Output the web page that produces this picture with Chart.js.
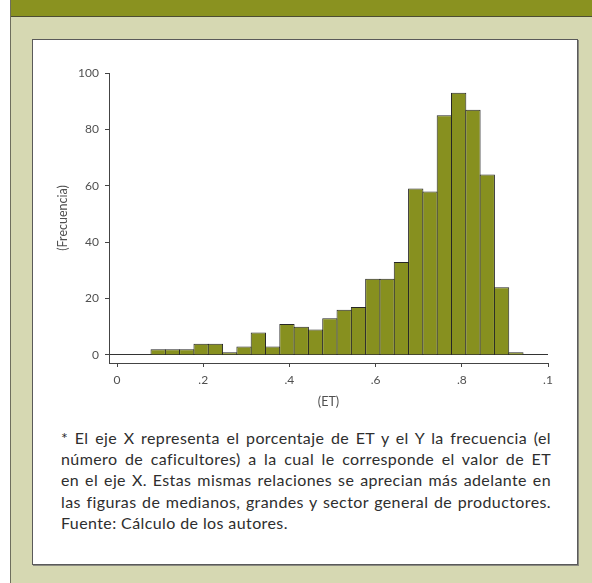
<!DOCTYPE html>
<html>
<head>
<meta charset="utf-8">
<script src="https://cdn.jsdelivr.net/npm/chart.js@4"></script>
<style>
  body { margin: 0; width: 592px; height: 583px; overflow: hidden; background: #fff; position: relative; }
  .panel { position: absolute; left: 10px; top: 0; width: 582px; height: 583px; background: #d6d8b2; border-left: 1px solid #6e6e5e; }
  .header { position: absolute; left: 11px; top: 0; width: 581px; height: 16px; background: #8a9220; border-bottom: 1px solid #4d4d33; }
  .box { position: absolute; left: 32px; top: 39px; width: 544px; height: 524px; background: #fff; border: 1px solid #5a5a5a; box-shadow: 1px 1px 0 #8a8a80; }
  .chart { position: absolute; left: 32px; top: 39px; width: 546px; height: 380px; }
  .nota { position: absolute; left: 61px; top: 427px; width: 490px; font-family: Lato, sans-serif; font-size: 16px; letter-spacing: 0.4px; line-height: 21.2px; color: #2e2e2e; }
  .nota div { text-align: justify; text-align-last: justify; white-space: nowrap; }
  .nota div.ultima { text-align-last: left; }
</style>
</head>
<body>
<div class="panel"></div>
<div class="header"></div>
<div class="box"></div>
<div class="chart"><canvas id="histograma" width="546" height="380"></canvas></div>
<div class="nota">
  <div>* El eje X representa el porcentaje de ET y el Y la frecuencia (el</div>
  <div>número de caficultores) a la cual le corresponde el valor de ET</div>
  <div>en el eje X. Estas mismas relaciones se aprecian más adelante en</div>
  <div>las figuras de medianos, grandes y sector general de productores.</div>
  <div class="ultima">Fuente: Cálculo de los autores.</div>
</div>
<script>
// centros de cada intervalo de ET (ancho ~0.0332)
const binCenters = [
  0.0955, 0.1287, 0.1619, 0.1951, 0.2283, 0.2615, 0.2947, 0.3279, 0.3611,
  0.3943, 0.4275, 0.4607, 0.4939, 0.5271, 0.5603, 0.5935, 0.6267, 0.6599,
  0.6931, 0.7263, 0.7595, 0.7927, 0.8259, 0.8591, 0.8923, 0.9255,
];
// frecuencia (número de caficultores)
const frecuencias = [
  2, 2, 2, 4, 4, 1, 3, 8, 3, 11, 10, 9, 13, 16, 17, 27, 27, 33, 59, 58, 85,
  93, 87, 64, 24, 1,
];
// marcas de los ejes
const xTicks = [0, 0.2, 0.4, 0.6, 0.8, 1];
const xTickLabels = ['0', '.2', '.4', '.6', '.8', '.1'];
const yTicks = [0, 20, 40, 60, 80, 100];
const yTickLabels = ['0', '20', '40', '60', '80', '100'];

const tickFont = { family: 'Lato, sans-serif', size: 12 };
const titleFont = { family: 'Lato, sans-serif', size: 12.5 };
const textGray = '#505050';
const axisGray = '#444';

const histData = {
  datasets: [
    {
      label: 'Frecuencia',
      data: binCenters.map((x, i) => ({ x: x, y: frecuencias[i] })),
      backgroundColor: '#87901f',
      borderColor: '#262626',
      borderWidth: 1,
      barPercentage: 1.07, // bordes compartidos entre barras
      categoryPercentage: 1.0,
    },
  ],
};

const histConfig = {
  type: 'bar',
  data: histData,
  options: {
    responsive: false,
    animation: false,
    layout: { padding: { top: 34, right: 30, left: 0, bottom: 0 } },
    plugins: {
      legend: { display: false },
      tooltip: { enabled: false },
    },
    scales: {
      x: {
        type: 'linear',
        offset: false,
        min: -0.0186,
        max: 1,
        afterBuildTicks: function (scale) {
          scale.ticks = xTicks.map((v) => ({ value: v }));
        },
        afterFit: function (scale) {
          scale.height = 56;
        },
        ticks: {
          font: tickFont,
          color: textGray,
          padding: 6,
          maxRotation: 0,
          autoSkip: false,
          callback: function (value) {
            const i = xTicks.indexOf(value);
            return i >= 0 ? xTickLabels[i] : '';
          },
        },
        grid: {
          offset: false,
          drawOnChartArea: false,
          drawTicks: true,
          tickLength: 4,
          tickColor: axisGray,
        },
        border: { display: true, color: axisGray, width: 1 },
        title: {
          display: true,
          text: '(ET)',
          font: titleFont,
          color: textGray,
          padding: { top: 4, bottom: 10 },
        },
      },
      y: {
        min: -2.84,
        max: 100,
        afterBuildTicks: function (scale) {
          scale.ticks = yTicks.map((v) => ({ value: v }));
        },
        afterFit: function (scale) {
          scale.width = 77;
        },
        ticks: {
          font: tickFont,
          color: textGray,
          padding: 6,
          callback: function (value) {
            const i = yTicks.indexOf(value);
            return i >= 0 ? yTickLabels[i] : '';
          },
        },
        grid: {
          drawOnChartArea: true,
          drawTicks: true,
          tickLength: 4,
          tickColor: axisGray,
          color: function (ctx) {
            // solo la línea base en cero
            return ctx.tick && ctx.tick.value === 0 ? '#333' : 'rgba(0,0,0,0)';
          },
        },
        border: { display: true, color: axisGray, width: 1 },
        title: {
          display: true,
          text: '(Frecuencia)',
          font: titleFont,
          color: textGray,
          padding: { top: 23, bottom: 0 },
        },
      },
    },
  },
};

new Chart(document.getElementById('histograma').getContext('2d'), histConfig);
</script>
</body>
</html>
